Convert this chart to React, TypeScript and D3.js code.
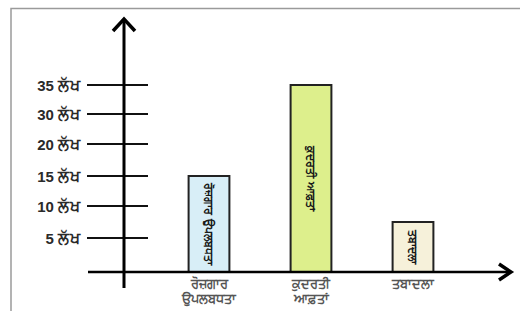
import React, { useRef, useEffect } from 'react';
import * as d3 from 'd3';

// tick values on the y axis (spacing in the picture is not linear)
const tickValues = [5, 10, 15, 20, 30, 35];
const tickNums = ['5', '10', '15', '20', '30', '35'];
const tickUnit = 'ਲੱਖ';
const tickPixels = [272, 238, 206, 176, 144, 114, 85]; // 0,5,10,15,20,30,35

const categories = ['rozgar', 'kudrati', 'tabadla'];
const catLines = [['ਰੋਜ਼ਗਾਰ', 'ਉਪਲਬਧਤਾ'], ['ਕੁਦਰਤੀ', 'ਆਫ਼ਤਾਂ'], ['ਤਬਾਦਲਾ']];
const barText = ['ਰੋਜ਼ਗਾਰ ਉਪਲਬਧਤਾ', 'ਕੁਦਰਤੀ ਆਫ਼ਤਾਂ', 'ਤਬਾਦਲਾ'];
const values = [15, 35, 7.5];
const barColors = ['#d8eef7', '#ddef8c', '#f6f1da'];

const App = () => {
  const ref = useRef<SVGSVGElement>(null);

  useEffect(() => {
    const svg = d3.select(ref.current);
    svg.selectAll('*').remove();

    const y = d3.scaleLinear()
      .domain([0, 5, 10, 15, 20, 30, 35])
      .range(tickPixels);

    const x = d3.scaleBand()
      .domain(categories)
      .range([158, 464])
      .paddingInner(0.6)
      .paddingOuter(0.3);

    const font = '"Liberation Sans", Arial, sans-serif';

    // frame
    svg.append('rect')
      .attr('x', 11).attr('y', 8.5)
      .attr('width', 530).attr('height', 320)
      .attr('fill', '#fff')
      .attr('stroke', '#9a9a9a')
      .attr('stroke-width', 1.5);

    // tick lines + labels
    tickValues.forEach((v, i) => {
      svg.append('line')
        .attr('x1', 87).attr('x2', 148)
        .attr('y1', y(v)).attr('y2', y(v))
        .attr('stroke', '#111').attr('stroke-width', 2);
      const t = svg.append('text')
        .attr('x', 81).attr('y', y(v))
        .attr('dy', '0.35em')
        .attr('text-anchor', 'end')
        .attr('font-family', font)
        .attr('font-weight', 'bold')
        .attr('fill', '#2a2a2a');
      t.append('tspan').attr('font-size', 15).text(tickNums[i] + ' ');
      t.append('tspan').attr('font-size', 16).attr('letter-spacing', 1).text(tickUnit);
    });

    // bars
    categories.forEach((c, i) => {
      const bx = x(c)!;
      const bw = x.bandwidth();
      svg.append('rect')
        .attr('x', bx).attr('y', y(values[i]))
        .attr('width', bw).attr('height', y(0) - y(values[i]))
        .attr('fill', barColors[i])
        .attr('stroke', '#222')
        .attr('stroke-width', 2);

      const top = y(values[i]);
      const ty = (top + y(0)) / 2;
      svg.append('text')
        .attr('transform', `translate(${bx + bw / 2},${ty}) rotate(90)`)
        .attr('text-anchor', 'middle')
        .attr('dy', '0.35em')
        .attr('font-family', font)
        .attr('font-weight', 'bold')
        .attr('font-size', 11)
        .attr('fill', '#1a1a1a')
        .text(barText[i]);

      catLines[i].forEach((t, j) => {
        svg.append('text')
          .attr('x', bx + bw / 2).attr('y', 288 + j * 15)
          .attr('text-anchor', 'middle')
          .attr('font-family', font)
          .attr('font-weight', 'bold')
          .attr('font-size', 12.5)
          .attr('fill', '#555')
          .text(t);
      });
    });

    // axes with arrows
    svg.append('line')
      .attr('x1', 124).attr('x2', 124)
      .attr('y1', 20).attr('y2', 288)
      .attr('stroke', '#000').attr('stroke-width', 3);
    svg.append('path')
      .attr('d', 'M113,31 L124,19 L135,31')
      .attr('fill', 'none').attr('stroke', '#000').attr('stroke-width', 3.5);

    svg.append('line')
      .attr('x1', 88).attr('x2', 510)
      .attr('y1', y(0)).attr('y2', y(0))
      .attr('stroke', '#000').attr('stroke-width', 2.5);
    svg.append('path')
      .attr('d', `M499,${y(0) - 8} L511,${y(0)} L499,${y(0) + 8}`)
      .attr('fill', 'none').attr('stroke', '#000').attr('stroke-width', 3.5);
  }, []);

  return (
    <svg ref={ref} width={520} height={311}
      style={{ position: 'absolute', left: 0, top: 0, background: '#fff' }} />
  );
};

export default App;
